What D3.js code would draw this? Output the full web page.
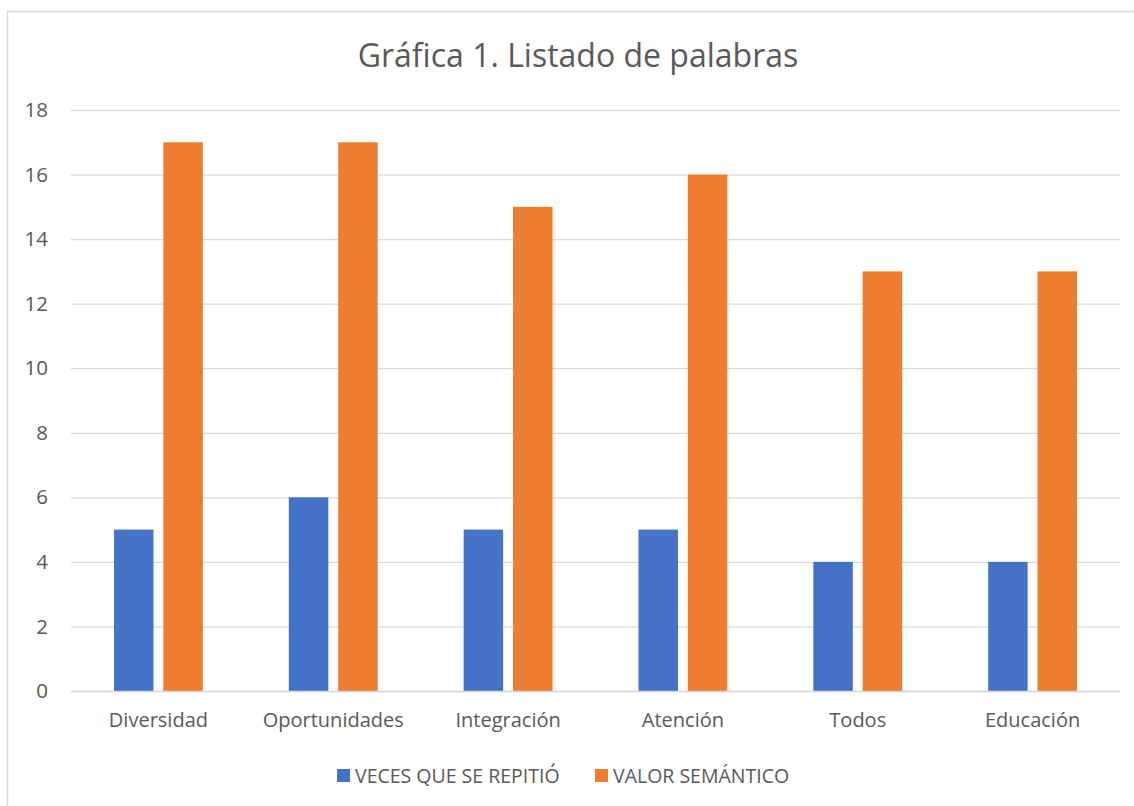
<!DOCTYPE html>
<html>
<head>
<meta charset="utf-8">
<script src="https://cdn.jsdelivr.net/npm/d3@7"></script>
<style>
  body { margin: 0; background: #fff; }
  text { font-family: "Open Sans", "Noto Sans", sans-serif; fill: #595959; }
</style>
</head>
<body>
<svg id="chart"></svg>
<script>
var categories = ["Diversidad", "Oportunidades", "Integración", "Atención", "Todos", "Educación"];
var seriesNames = ["VECES QUE SE REPITIÓ", "VALOR SEMÁNTICO"];
var veces = [5, 6, 5, 5, 4, 4];
var valor = [17, 17, 15, 16, 13, 13];
var yTicks = [0, 2, 4, 6, 8, 10, 12, 14, 16, 18];
var colors = ["#4472c4", "#ed7d31"];

var w = 1134;
var h = 806;
var plotLeft = 71, plotRight = 1120, plotTop = 110, plotBottom = 691;

var svg = d3.select("#chart")
  .attr("width", w)
  .attr("height", h);

// chart frame (left + top edges visible)
svg.append("path")
  .attr("d", "M7.5,820 L7.5,11.5 L1150,11.5")
  .attr("fill", "none")
  .attr("stroke", "#d9d9d9")
  .attr("stroke-width", 1.5);

svg.append("text")
  .attr("x", 578)
  .attr("y", 67)
  .attr("text-anchor", "middle")
  .style("font-size", "32px")
  .text("Gráfica 1. Listado de palabras");

var x = d3.scaleBand()
  .domain(categories)
  .range([plotLeft, plotRight])
  .paddingInner(0)
  .paddingOuter(0);

var x1 = d3.scaleBand()
  .domain([0, 1])
  .range([43, x.bandwidth() - 43])
  .paddingInner(0.2);

var y = d3.scaleLinear()
  .domain([0, 18])
  .range([plotBottom, plotTop]);

var yAxis = d3.axisLeft(y)
  .tickValues(yTicks)
  .tickSize(-(plotRight - plotLeft))
  .tickPadding(23);

var gy = svg.append("g")
  .attr("transform", "translate(" + plotLeft + ",0)")
  .call(yAxis);
gy.select(".domain").remove();
gy.selectAll(".tick line").attr("stroke", "#d9d9d9").attr("stroke-width", 1.3);
gy.selectAll(".tick text").style("font-size", "20.5px").attr("fill", "#595959");

var groups = svg.append("g").selectAll("g")
  .data(categories)
  .enter().append("g")
  .attr("transform", function (d) { return "translate(" + x(d) + ",0)"; });

groups.selectAll("rect")
  .data(function (d, i) { return [veces[i], valor[i]]; })
  .enter().append("rect")
  .attr("x", function (d, j) { return x1(j); })
  .attr("y", function (d) { return y(d); })
  .attr("width", x1.bandwidth())
  .attr("height", function (d) { return y(0) - y(d); })
  .attr("fill", function (d, j) { return colors[j]; });

var xAxis = d3.axisBottom(x).tickSize(0).tickPadding(22);
var gx = svg.append("g")
  .attr("transform", "translate(0," + plotBottom + ")")
  .call(xAxis);
gx.select(".domain").attr("stroke", "#d9d9d9").attr("stroke-width", 1.5);
gx.selectAll(".tick text").style("font-size", "20px").attr("fill", "#595959");

// legend
var legendX = [337, 595];
var legend = svg.append("g").selectAll("g")
  .data(seriesNames)
  .enter().append("g")
  .attr("transform", function (d, i) { return "translate(" + legendX[i] + ",769)"; });
legend.append("rect")
  .attr("width", 13).attr("height", 13)
  .attr("fill", function (d, i) { return colors[i]; });
legend.append("text")
  .attr("x", 18).attr("y", 13.5)
  .style("font-size", "19.5px")
  .text(function (d) { return d; });
</script>
</body>
</html>
